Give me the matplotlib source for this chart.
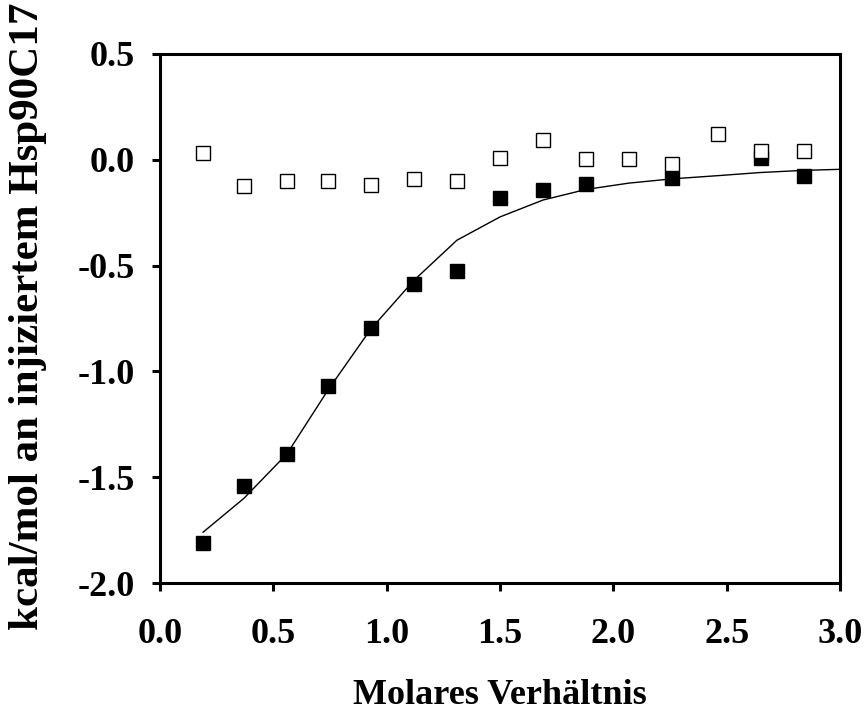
import matplotlib.pyplot as plt

# data
ratio = [0.19, 0.37, 0.56, 0.74, 0.93, 1.12, 1.31, 1.50, 1.69, 1.88, 2.07, 2.26, 2.46, 2.65, 2.84]
heat_bound = [-1.81, -1.54, -1.39, -1.07, -0.795, -0.585, -0.525, -0.18, -0.145, -0.113, None, -0.085, None, 0.01, -0.075]
heat_ctrl = [0.03, -0.125, -0.10, -0.10, -0.12, -0.09, -0.10, 0.01, 0.095, 0.005, 0.005, -0.02, 0.12, 0.04, 0.04]
fit_x = [0.19, 0.37, 0.56, 0.74, 0.93, 1.12, 1.31, 1.50, 1.69, 1.88, 2.07, 2.26, 2.46, 2.65, 2.84, 3.0]
fit_y = [-1.76, -1.60, -1.39, -1.09, -0.80, -0.57, -0.38, -0.27, -0.19, -0.14, -0.11, -0.09, -0.075, -0.06, -0.05, -0.045]

plt.rcParams['font.family'] = ['Liberation Serif', 'DejaVu Serif']

fig = plt.figure(figsize=(8.65, 7.15), dpi=100)
ax = fig.add_axes([160 / 865, 1 - 583 / 715, 680 / 865, 529 / 715])

bx = [x for x, y in zip(ratio, heat_bound) if y is not None]
by = [y for y in heat_bound if y is not None]

ax.plot(fit_x, fit_y, color='black', linewidth=1.0, zorder=2)
ax.plot(bx, by, 's', color='black', markersize=10, zorder=3)
ax.plot(ratio, heat_ctrl, 's', markerfacecolor='white', markeredgecolor='black',
        markeredgewidth=1.0, markersize=9.5, zorder=4, linestyle='none')

ax.set_xlim(0, 3.0)
ax.set_ylim(-2.0, 0.5)
ax.set_xticks([0.0, 0.5, 1.0, 1.5, 2.0, 2.5, 3.0])
ax.set_yticks([-2.0, -1.5, -1.0, -0.5, 0.0, 0.5])
ax.set_xticklabels(['0.0', '0.5', '1.0', '1.5', '2.0', '2.5', '3.0'])
ax.set_yticklabels(['-2.0', '-1.5', '-1.0', '-0.5', '0.0', '0.5'])

for s in ax.spines.values():
    s.set_linewidth(2.2)
ax.tick_params(direction='out', length=6, width=2.2, labelsize=26)
ax.tick_params(axis='x', pad=19)
ax.tick_params(axis='y', pad=12)
for lab in ax.get_xticklabels() + ax.get_yticklabels():
    lab.set_fontweight('bold')

ax.set_xlabel('Molares Verhältnis', fontsize=26, fontweight='bold', labelpad=20)
fig.text(28 / 865, 1 - 316 / 715, 'kcal/mol an injiziertem Hsp90C17', rotation=90,
         fontsize=31, fontweight='bold', ha='center', va='center')

plt.savefig('out.png', dpi=100, facecolor='white')
